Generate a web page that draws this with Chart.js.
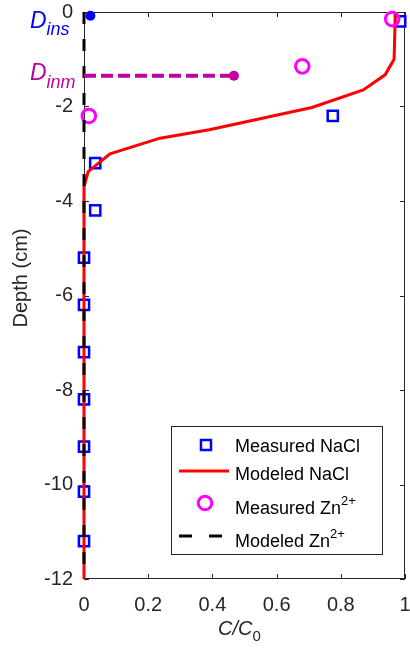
<!DOCTYPE html>
<html>
<head>
<meta charset="utf-8">
<script src="https://cdn.jsdelivr.net/npm/chart.js@4.4.1/dist/chart.umd.min.js"></script>
<style>
  html, body { margin: 0; padding: 0; background: #fff; }
</style>
</head>
<body>
<canvas id="chart" width="410" height="666"></canvas>
<script>
// measured NaCl profile
const naclC = [0.985, 0.775, 0.035, 0.035, 0, 0, 0, 0, 0, 0, 0];
const naclDepth = [-0.2, -2.2, -3.2, -4.2, -5.2, -6.2, -7.2, -8.2, -9.2, -10.15, -11.2];
// modeled NaCl profile
const naclModelC = [0.97, 0.966, 0.938, 0.87, 0.71, 0.39, 0.237, 0.081, 0.013, 0, 0];
const naclModelDepth = [0, -1.0, -1.33, -1.65, -2.02, -2.49, -2.67, -3.0, -3.38, -3.7, -12];
// measured Zn2+ profile
const znC = [0.96, 0.68, 0.015];
const znDepth = [-0.15, -1.15, -2.2];
// modeled Zn2+ profile
const znModelC = [0, 0];
const znModelDepth = [0, -12];
// infiltration depth markers
const dInsC = [0.02];
const dInsDepth = [-0.08];
const dInmC = [0, 0.467];
const dInmDepth = [-1.35, -1.35];

const xTicks = [0, 0.2, 0.4, 0.6, 0.8, 1];
const yTicks = [0, -2, -4, -6, -8, -10, -12];

const FONT = '"Liberation Sans", Arial, Helvetica, sans-serif';
const AXIS = '#262626';
const INM = '#c000a0';

const pts = (xs, ys) => xs.map((x, i) => ({ x, y: ys[i] }));
const fmt = v => String(Math.round(v * 10) / 10);

// box with inward ticks on all four sides
const frame = {
  id: 'frame',
  beforeDatasetsDraw(chart) {
    const { ctx, chartArea: a, scales: { x, y } } = chart;
    ctx.save();
    ctx.strokeStyle = AXIS;
    ctx.lineWidth = 1;
    ctx.strokeRect(a.left + 0.5, a.top + 0.5, a.width - 1, a.height - 1);
    ctx.beginPath();
    xTicks.forEach(v => {
      const px = Math.round(x.getPixelForValue(v)) + 0.5;
      ctx.moveTo(px, a.bottom); ctx.lineTo(px, a.bottom - 5);
      ctx.moveTo(px, a.top); ctx.lineTo(px, a.top + 5);
    });
    yTicks.forEach(v => {
      const py = Math.round(y.getPixelForValue(v)) + 0.5;
      ctx.moveTo(a.left, py); ctx.lineTo(a.left + 5, py);
      ctx.moveTo(a.right, py); ctx.lineTo(a.right - 5, py);
    });
    ctx.stroke();
    ctx.restore();
  }
};

function subText(ctx, x, y, main, sub, mainFont, subFont, dy) {
  ctx.font = mainFont;
  ctx.fillText(main, x, y);
  const w = ctx.measureText(main).width;
  ctx.font = subFont;
  ctx.fillText(sub, x + w, y + dy);
}

// axis titles, depth labels and legend
const annotate = {
  id: 'annotate',
  afterDraw(chart) {
    const { ctx, chartArea: a, scales: { x, y } } = chart;
    ctx.save();
    ctx.textBaseline = 'alphabetic';
    ctx.textAlign = 'left';

    // y title
    ctx.save();
    ctx.translate(27, 278);
    ctx.rotate(-Math.PI / 2);
    ctx.fillStyle = AXIS;
    ctx.font = '20px ' + FONT;
    ctx.textAlign = 'center';
    ctx.fillText('Depth (cm)', 0, 0);
    ctx.restore();

    // x title C/C0
    ctx.fillStyle = AXIS;
    subText(ctx, 218, 635, 'C/C', '0', 'italic 20px ' + FONT, '15px ' + FONT, 6);

    // D_ins and D_inm labels
    ctx.fillStyle = '#0000ff';
    subText(ctx, 30, y.getPixelForValue(dInsDepth[0]) + 12, 'D', 'ins', 'italic 23px ' + FONT, 'italic 18px ' + FONT, 7);
    ctx.fillStyle = INM;
    subText(ctx, 30, y.getPixelForValue(dInmDepth[0]) + 4, 'D', 'inm', 'italic 23px ' + FONT, 'italic 18px ' + FONT, 8);

    // legend
    const L = 171.5, T = 426.5, W = 211, H = 128;
    ctx.fillStyle = '#fff';
    ctx.fillRect(L, T, W, H);
    ctx.strokeStyle = AXIS;
    ctx.lineWidth = 1;
    ctx.strokeRect(L, T, W, H);

    const mx = 206, tx = 235;
    ctx.strokeStyle = '#0000ff';
    ctx.lineWidth = 2.5;
    ctx.strokeRect(mx - 5, 445 - 5, 10, 10);
    ctx.strokeStyle = '#ff0000';
    ctx.lineWidth = 3;
    ctx.beginPath(); ctx.moveTo(179, 471); ctx.lineTo(229, 471); ctx.stroke();
    ctx.strokeStyle = '#ff00ff';
    ctx.beginPath(); ctx.arc(mx - 1, 503, 6.8, 0, Math.PI * 2); ctx.stroke();
    ctx.strokeStyle = '#000';
    ctx.setLineDash([13, 17]);
    ctx.beginPath(); ctx.moveTo(179, 536); ctx.lineTo(224, 536); ctx.stroke();
    ctx.setLineDash([]);

    ctx.fillStyle = '#000';
    ctx.font = '18px ' + FONT;
    ctx.fillText('Measured NaCl', tx, 452);
    ctx.fillText('Modeled NaCl', tx, 480);
    subText(ctx, tx, 514, 'Measured Zn', '2+', '18px ' + FONT, '13px ' + FONT, -9);
    subText(ctx, tx, 547, 'Modeled Zn', '2+', '18px ' + FONT, '13px ' + FONT, -9);
    ctx.restore();
  }
};

new Chart(document.getElementById('chart'), {
  type: 'scatter',
  data: {
    datasets: [
      {
        label: 'Measured NaCl',
        data: pts(naclC, naclDepth),
        pointStyle: 'rect',
        pointRadius: 7.2,
        borderWidth: 2.5,
        borderColor: '#0000ff',
        backgroundColor: 'rgba(0,0,0,0)',
        clip: false,
        order: 5
      },
      {
        label: 'Modeled NaCl',
        data: pts(naclModelC, naclModelDepth),
        showLine: true,
        pointRadius: 0,
        borderWidth: 3,
        borderColor: '#ff0000',
        clip: false,
        order: 4
      },
      {
        label: 'Measured Zn2+',
        data: pts(znC, znDepth),
        pointStyle: 'circle',
        pointRadius: 6.8,
        borderWidth: 3,
        borderColor: '#ff00ff',
        backgroundColor: 'rgba(0,0,0,0)',
        clip: false,
        order: 3
      },
      {
        label: 'Modeled Zn2+',
        data: pts(znModelC, znModelDepth),
        showLine: true,
        pointRadius: 0,
        borderWidth: 3,
        borderColor: '#000000',
        borderDash: [12, 15],
        clip: false,
        order: 2
      },
      {
        label: 'Dinm',
        data: pts(dInmC, dInmDepth),
        showLine: true,
        borderWidth: 4,
        borderColor: INM,
        borderDash: [12, 5],
        pointRadius: [0, 5],
        pointBackgroundColor: INM,
        pointBorderWidth: 0,
        clip: false,
        order: 1
      },
      {
        label: 'Dins',
        data: pts(dInsC, dInsDepth),
        pointRadius: 5,
        pointBackgroundColor: '#0000ff',
        pointBorderWidth: 0,
        clip: false,
        order: 0
      }
    ]
  },
  options: {
    responsive: false,
    animation: false,
    devicePixelRatio: 1,
    layout: { autoPadding: false, padding: { top: 12, right: 5, left: 0, bottom: 0 } },
    plugins: { legend: { display: false }, tooltip: { enabled: false } },
    scales: {
      x: {
        type: 'linear', min: 0, max: 1,
        grid: { display: false, drawTicks: false },
        border: { display: false },
        afterBuildTicks: s => { s.ticks = xTicks.map(v => ({ value: v })); },
        ticks: { padding: 14, color: AXIS, font: { size: 20, family: FONT }, maxRotation: 0, autoSkip: false, callback: fmt },
        afterFit: s => { s.height = 87; s.paddingLeft = 0; s.paddingRight = 0; }
      },
      y: {
        type: 'linear', min: -12, max: 0,
        grid: { display: false, drawTicks: false },
        border: { display: false },
        afterBuildTicks: s => { s.ticks = yTicks.map(v => ({ value: v })); },
        ticks: { padding: 11, color: AXIS, font: { size: 20, family: FONT }, autoSkip: false, callback: fmt },
        afterFit: s => { s.width = 84; s.paddingTop = 0; s.paddingBottom = 0; }
      }
    }
  },
  plugins: [frame, annotate]
});
</script>
</body>
</html>
